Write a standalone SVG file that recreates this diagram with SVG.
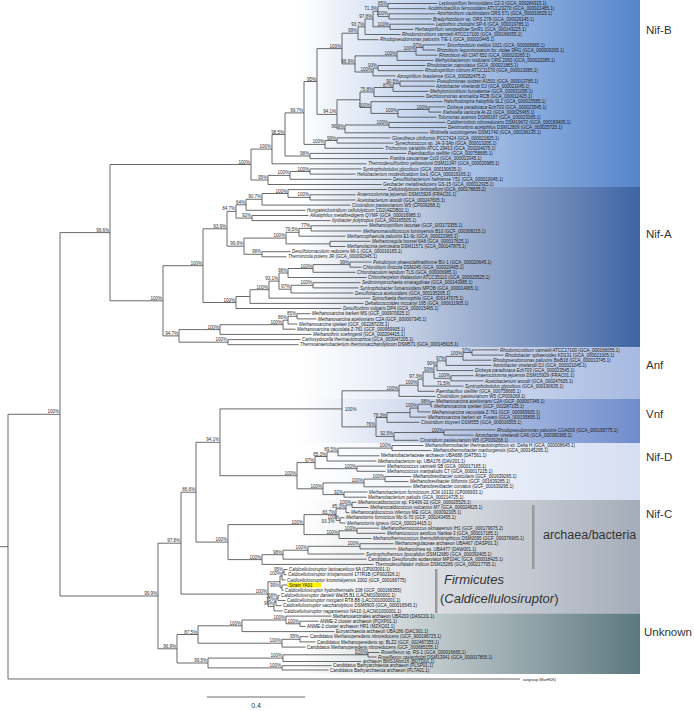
<svg xmlns="http://www.w3.org/2000/svg" width="694" height="711" viewBox="0 0 694 711">
<style>
.t{font-family:"Liberation Sans",Arial,sans-serif;font-size:4.5px;fill:#222}
.i{font-style:italic}
.s{font-family:"Liberation Sans",Arial,sans-serif;font-size:4.6px;fill:#333;text-anchor:end}
.br{fill:none;stroke:#444;stroke-width:0.8}
.bl{font-family:"Liberation Sans",Arial,sans-serif;font-size:11.5px;fill:#333}
.bar{fill:#9a9a9a}
</style>
<defs>
<linearGradient id="gB" gradientUnits="userSpaceOnUse" x1="300" y1="0" x2="640" y2="0"><stop offset="0" stop-color="#5585cc" stop-opacity="0"/><stop offset="1" stop-color="#5585cc"/></linearGradient>
<linearGradient id="gA" gradientUnits="userSpaceOnUse" x1="300" y1="0" x2="640" y2="0"><stop offset="0" stop-color="#3f64a3" stop-opacity="0"/><stop offset="1" stop-color="#3f64a3"/></linearGradient>
<linearGradient id="gF" gradientUnits="userSpaceOnUse" x1="300" y1="0" x2="640" y2="0"><stop offset="0" stop-color="#a6b9e0" stop-opacity="0"/><stop offset="1" stop-color="#a6b9e0"/></linearGradient>
<linearGradient id="gV" gradientUnits="userSpaceOnUse" x1="300" y1="0" x2="640" y2="0"><stop offset="0" stop-color="#6f8ccc" stop-opacity="0"/><stop offset="1" stop-color="#6f8ccc"/></linearGradient>
<linearGradient id="gD" gradientUnits="userSpaceOnUse" x1="300" y1="0" x2="640" y2="0"><stop offset="0" stop-color="#d6dff2" stop-opacity="0"/><stop offset="1" stop-color="#d6dff2"/></linearGradient>
<linearGradient id="gC" gradientUnits="userSpaceOnUse" x1="300" y1="0" x2="640" y2="0"><stop offset="0" stop-color="#a5adba" stop-opacity="0"/><stop offset="1" stop-color="#a5adba"/></linearGradient>
<linearGradient id="gU" gradientUnits="userSpaceOnUse" x1="300" y1="0" x2="640" y2="0"><stop offset="0" stop-color="#5d7880" stop-opacity="0"/><stop offset="1" stop-color="#5d7880"/></linearGradient>
</defs>
<rect width="694" height="711" fill="#fff"/>
<g id="bands">
<rect x="300" y="0" width="340" height="187" fill="url(#gB)"/>
<rect x="300" y="187" width="340" height="160.3" fill="url(#gA)"/>
<rect x="300" y="347.3" width="340" height="51.7" fill="url(#gF)"/>
<rect x="300" y="399" width="340" height="44" fill="url(#gV)"/>
<rect x="300" y="443" width="340" height="57" fill="url(#gD)"/>
<rect x="300" y="500" width="340" height="113.5" fill="url(#gC)"/>
<rect x="300" y="613.5" width="340" height="60.5" fill="url(#gU)"/>
</g>
<g id="band-labels">
<text class="bl" x="646" y="34">Nif-B</text>
<text class="bl" x="646" y="238">Nif-A</text>
<text class="bl" x="646" y="369">Anf</text>
<text class="bl" x="646" y="418">Vnf</text>
<text class="bl" x="646" y="461">Nif-D</text>
<text class="bl" x="646" y="518">Nif-C</text>
<text class="bl" x="644" y="636">Unknown</text>
</g>
<g id="connectors">
<path class="br" d="M388 3.5V8.7M388 3.5H437.5M388 8.7H426.5M389 13.8V19M389 13.8H435.5M389 19H431.5M378 6.1V16.4M378 6.1H388M378 16.4H389M390 24.2V29.4M390 24.2H434.5M390 29.4H413.5M373 11.2V26.8M373 11.2H378M373 26.8H390M365 19V34.5M365 19H373M365 34.5H400.5M358 26.8V39.7M358 26.8H365M358 39.7H378.5M423 44.9V50M423 44.9H445.5M423 50H435.5M416 47.5V55.2M416 47.5H423M416 55.2H437.5M397 51.3V60.4M397 51.3H416M397 60.4H433.5M378 65.5V70.7M378 65.5H425.5M378 70.7H423.5M373 68.1V75.9M373 68.1H378M373 75.9H395.5M355 55.9V72M355 55.9H397M355 72H373M342 33.2V63.9M342 33.2H358M342 63.9H355M400 81.1V86.2M400 81.1H435.5M400 86.2H434.5M393 83.7V91.4M393 83.7H400M393 91.4H428.5M374 87.5V96.6M374 87.5H393M374 96.6H424.5M429 106.9V112.1M429 106.9H445.5M429 112.1H441.5M398 109.5V117.2M398 109.5H429M398 117.2H436.5M371 101.7V113.4M371 101.7H442.5M371 113.4H398M360 92V107.5M360 92H374M360 107.5H371M389 122.4V127.6M389 122.4H445.5M389 127.6H446.5M345 125V132.8M345 125H389M345 132.8H428.5M337 99.8V128.9M337 99.8H360M337 128.9H345M317 48.6V114.4M317 48.6H342M317 114.4H337M337 137.9V143.1M337 137.9H390.5M337 143.1H393.5M325 140.5V148.3M325 140.5H337M325 148.3H383.5M304 81.5V144.4M304 81.5H317M304 144.4H325M310 153.4V158.6M310 153.4H406.5M310 158.6H388.5M285 112.9V156M285 112.9H304M285 156H310M272 134.5V163.8M272 134.5H285M272 163.8H366.5M310 168.9V174.1M310 168.9H361.5M310 174.1H355.5M290 171.5V179.3M290 171.5H310M290 179.3H391.5M268 175.4V184.5M268 175.4H290M268 184.5H381.5M251 149.1V180M251 149.1H272M251 180H268"/>
<path class="br" d="M310 194.8V200M310 194.8H355.5M310 200H355.5M288 189.6V197.4M288 189.6H386.5M288 197.4H310M262 193.5V205.1M262 193.5H288M262 205.1H350.5M246 199.3V210.3M246 199.3H262M246 210.3H305.5M252 215.5V220.6M252 215.5H308.5M252 220.6H330.5M236 204.8V218.1M236 204.8H246M236 218.1H252M311 225.8V231M311 225.8H367.5M311 231H361.5M299 228.4V236.2M299 228.4H311M299 236.2H345.5M330 241.3V246.5M330 241.3H370.5M330 246.5H345.5M286 232.3V243.9M286 232.3H299M286 243.9H330M262 251.7V256.8M262 251.7H290.5M262 256.8H286.5M244 238.1V254.3M244 238.1H286M244 254.3H262M227 211.4V246.2M227 211.4H236M227 246.2H244M350 262V267.2M350 262H371.5M350 267.2H361.5M313 264.6V272.3M313 264.6H350M313 272.3H355.5M288 268.5V277.5M288 268.5H313M288 277.5H366.5M313 282.7V287.9M313 282.7H360.5M313 287.9H358.5M291 285.3V293M291 285.3H313M291 293H353.5M279 273V289.2M279 273H288M279 289.2H291M269 281.1V298.2M269 281.1H279M269 298.2H370.5M250 289.7V303.4M250 289.7H269M250 303.4H363.5M236 296.5V308.5M236 296.5H250M236 308.5H341.5M203 228.8V302.5M203 228.8H227M203 302.5H236M297 313.7V318.9M297 313.7H310.5M297 318.9H316.5M288 316.3V324M288 316.3H297M288 324H297.5M283 320.2V329.2M283 320.2H288M283 329.2H295.5M220 324.7V334.4M220 324.7H283M220 334.4H311.5M228 339.6V344.7M228 339.6H300.5M228 344.7H298.5M179 329.6V342.2M179 329.6H220M179 342.2H228M163 265.7V335.9M163 265.7H203M163 335.9H179"/>
<path class="br" d="M472 349.9V355.1M472 349.9H498.5M472 355.1H503.5M463 352.5V360.2M463 352.5H472M463 360.2H491.5M446 356.4V365.4M446 356.4H463M446 365.4H491.5M437 360.9V370.6M437 360.9H446M437 370.6H473.5M451 375.7V380.9M451 375.7H473.5M451 380.9H483.5M434 365.8V378.3M434 365.8H437M434 378.3H451M423 372V386.1M423 372H434M423 386.1H463.5M418 379.1V391.3M418 379.1H423M418 391.3H434.5M399 385.2V396.4M399 385.2H418M399 396.4H435.5M431 401.6V406.8M431 401.6H434.5M431 406.8H432.5M418 404.2V411.9M418 404.2H431M418 411.9H430.5M410 408.1V417.1M410 408.1H418M410 417.1H426.5M387 412.6V422.3M387 412.6H410M387 422.3H419.5M444 429.9V435.1M444 429.9H495.5M444 435.1H473.5M394 432.5V440.3M394 432.5H444M394 440.3H418.5M376 417.5V436.4M376 417.5H387M376 436.4H394M342 390.8V426.9M342 390.8H399M342 426.9H376"/>
<path class="br" d="M392 445.5V450.6M392 445.5H423.5M392 450.6H431.5M338 448.1V455.8M338 448.1H392M338 455.8H379.5M327 451.9V461M327 451.9H338M327 461H376.5M357 466.1V471.3M357 466.1H385.5M357 471.3H385.5M315 456.5V468.7M315 456.5H327M315 468.7H357M385 476.5V481.6M385 476.5H411.5M385 481.6H408.5M364 479.1V486.8M364 479.1H385M364 486.8H411.5M344 492V497.2M344 492H367.5M344 497.2H366.5M323 482.9V494.6M323 482.9H364M323 494.6H344M297 462.6V488.8M297 462.6H315M297 488.8H323M220 408.9V475.7M220 408.9H342M220 475.7H297"/>
<path class="br" d="M352 502.3V507.5M352 502.3H356.5M352 507.5H368.5M346 504.9V512.7M346 504.9H352M346 512.7H349.5M340 517.8V523M340 517.8H344.5M340 523H345.5M336 508.8V520.4M336 508.8H346M336 520.4H340M357 528.2V533.3M357 528.2H379.5M357 533.3H385.5M339 530.8V538.5M339 530.8H357M339 538.5H371.5M304 514.6V534.6M304 514.6H336M304 534.6H339M360 543.7V548.9M360 543.7H393.5M360 548.9H396.5M308 546.3V554M308 546.3H360M308 554H364.5M283 550.2V559.2M283 550.2H308M283 559.2H366.5M262 554.7V564.4M262 554.7H283M262 564.4H373.5M228 524.6V559.6M228 524.6H304M228 559.6H262M196 442.3V542.1M196 442.3H220M196 542.1H228"/>
<path class="br" d="M284 569.5V574.7M284 569.5H287.5M284 574.7H286.5M282 572.1V579.9M282 572.1H284M282 579.9H285.5M282 585V590.2M282 585H287M282 590.2H283.5M280 576V587.6M280 576H282M280 587.6H282M278 595.4V600.6M278 595.4H279.5M278 600.6H285.5M276 598V605.7M276 598H278M276 605.7H281.5M274 601.9V610.9M274 601.9H276M274 610.9H282.5M268 581.8V606.4M268 581.8H280M268 606.4H274M181 492.2V594.1M181 492.2H196M181 594.1H268"/>
<path class="br" d="M300 621.2V626.4M300 621.2H318.5M300 626.4H305.5M286 616.1V623.8M286 616.1H331.5M286 623.8H300M242 620V631.6M242 620H286M242 631.6H334.5M300 636.7V641.9M300 636.7H308.5M300 641.9H315.5M282 639.3V647.1M282 639.3H300M282 647.1H305.5M198 625.8V643.2M198 625.8H242M198 643.2H282M368 652.5V657M368 652.5H379.5M368 657H376.5M283 654.8V661.5M283 654.8H368M283 661.5H361.5M282 665.7V670M282 665.7H331.5M282 670H328.5M208 658.1V667.9M208 658.1H283M208 667.9H282M177 634.5V663M177 634.5H198M177 663H208M158 543.2V648.8M158 543.2H181M158 648.8H177"/>
<path class="br" d="M110 164.5V300.8M110 164.5H251M110 300.8H163M60 232.6V596M60 232.6H110M60 596H158M8 414.3V679M8 414.3H60M8 679H520M0 546.7H8"/>
<path class="br" d="M207 697H305"/>
</g>
<g id="leaves">
<g id="n0"><text class="t" x="439" y="5.1"><tspan class="i">Leptospirillum ferrooxidans</tspan> C2-3 (GCA_000284315.1)</text></g>
<g id="n1"><text class="t" x="428" y="10.3"><tspan class="i">Acidithiobacillus ferrooxidans</tspan> ATCC23270 (GCA_000021485.1)</text></g>
<g id="n2"><text class="t" x="437" y="15.4"><tspan class="i">Azorhizobium caulinodans</tspan> ORS 571 (GCA_000010525.1)</text></g>
<g id="n3"><text class="t" x="433" y="20.6"><tspan class="i">Bradyrhizobium</tspan> sp. ORS 278 (GCA_000026145.1)</text></g>
<g id="n4"><text class="t" x="436" y="25.8"><tspan class="i">Leptothrix cholodnii</tspan> SP-6 (GCA_000019785.1)</text></g>
<g id="n5"><text class="t" x="415" y="31"><tspan class="i">Herbaspirillum seropedicae</tspan> SmR1 (GCA_000143225.1)</text></g>
<g id="n6"><text class="t" x="402" y="36.1"><tspan class="i">Rhodomicrobium vannielii</tspan> ATCC17100 (GCA_000166055.1)</text></g>
<g id="n7"><text class="t" x="380" y="41.3"><tspan class="i">Rhodopseudomonas palustris</tspan> TIE-1 (GCA_000020445.1)</text></g>
<g id="n8"><text class="t" x="447" y="46.5"><tspan class="i">Sinorhizobium meliloti</tspan> 1021 (GCA_000006965.1)</text></g>
<g id="n9"><text class="t" x="437" y="51.6"><tspan class="i">Rhizobium leguminosarum</tspan> bv. viciae 3841 (GCA_000009265.1)</text></g>
<g id="n10"><text class="t" x="439" y="56.8"><tspan class="i">Rhizobium etli</tspan> CIAT 652 (GCA_000020265.1)</text></g>
<g id="n11"><text class="t" x="435" y="62"><tspan class="i">Methylobacterium nodulans</tspan> ORS 2060 (GCA_000022085.1)</text></g>
<g id="n12"><text class="t" x="427" y="67.1"><tspan class="i">Rhodobacter capsulatus</tspan> (GCA_000021865.1)</text></g>
<g id="n13"><text class="t" x="425" y="72.3"><tspan class="i">Rhodospirillum rubrum</tspan> ATCC11170 (GCA_000013085.1)</text></g>
<g id="n14"><text class="t" x="397" y="77.5"><tspan class="i">Azospirillum brasilense</tspan> (GCA_000282475.2)</text></g>
<g id="n15"><text class="t" x="437" y="82.7"><tspan class="i">Pseudomonas stutzeri</tspan> A1501 (GCA_000013785.1)</text></g>
<g id="n16"><text class="t" x="436" y="87.8"><tspan class="i">Azotobacter vinelandii</tspan> DJ (GCA_000021045.1)</text></g>
<g id="n17"><text class="t" x="430" y="93"><tspan class="i">Methylomicrobium buryatense</tspan> (GCA_000931095.1)</text></g>
<g id="n18"><text class="t" x="426" y="98.2"><tspan class="i">Dechloromonas aromatica</tspan> RCB (GCA_000012425.1)</text></g>
<g id="n19"><text class="t" x="444" y="103.3"><tspan class="i">Halorhodospira halophila</tspan> SL1 (GCA_000015585.1)</text></g>
<g id="n20"><text class="t" x="447" y="108.5"><tspan class="i">Dickeya paradisiaca</tspan> Ech703 (GCA_000023545.1)</text></g>
<g id="n21"><text class="t" x="443" y="113.7"><tspan class="i">Klebsiella variicola</tspan> At-22 (GCA_000025465.1)</text></g>
<g id="n22"><text class="t" x="438" y="118.8"><tspan class="i">Tolumonas auensis</tspan> DSM9187 (GCA_000023065.1)</text></g>
<g id="n23"><text class="t" x="447" y="124"><tspan class="i">Calditerrivibrio nitroreducens</tspan> DSM19672 (GCA_000183405.1)</text></g>
<g id="n24"><text class="t" x="448" y="129.2"><tspan class="i">Denitrovibrio acetiphilus</tspan> DSM12809 (GCA_000025725.1)</text></g>
<g id="n25"><text class="t" x="430" y="134.4"><tspan class="i">Wolinella succinogenes</tspan> DSM1740 (GCA_000196135.1)</text></g>
<g id="n26"><text class="t" x="392" y="139.5"><tspan class="i">Gloeothece citriformis</tspan> PCC7424 (GCA_000021825.1)</text></g>
<g id="n27"><text class="t" x="395" y="144.7"><tspan class="i">Synechococcus</tspan> sp. JA-3-3Ab (GCA_000013205.1)</text></g>
<g id="n28"><text class="t" x="385" y="149.9"><tspan class="i">Trichormus variabilis</tspan> ATCC 29413 (GCA_000204075.1)</text></g>
<g id="n29"><text class="t" x="408" y="155"><tspan class="i">Paenibacillus stellifer</tspan> (GCA_000758685.1)</text></g>
<g id="n30"><text class="t" x="390" y="160.2"><tspan class="i">Frankia casuarinae</tspan> CcI3 (GCA_000013345.1)</text></g>
<g id="n31"><text class="t" x="368" y="165.4"><tspan class="i">Thermodesulfovibrio yellowstonii</tspan> DSM11347 (GCA_000020985.1)</text></g>
<g id="n32"><text class="t" x="363" y="170.5"><tspan class="i">Syntrophobotulus glycolicus</tspan> (GCA_000190635.1)</text></g>
<g id="n33"><text class="t" x="357" y="175.7"><tspan class="i">Heliobacterium modesticaldum</tspan> Ice1 (GCA_000019165.1)</text></g>
<g id="n34"><text class="t" x="393" y="180.9"><tspan class="i">Desulfitobacterium hafniense</tspan> Y51 (GCA_000010045.1)</text></g>
<g id="n35"><text class="t" x="383" y="186.1"><tspan class="i">Geobacter metallireducens</tspan> GS-15 (GCA_000012925.1)</text></g>
<g id="n36"><text class="t" x="388" y="191.2"><tspan class="i">Cellulosilyticum lentocellum</tspan> (GCA_000178835.2)</text></g>
<g id="n37"><text class="t" x="357" y="196.4"><tspan class="i">Anaerocolumna jejuensis</tspan> DSM15929 (FRAC01.1)</text></g>
<g id="n38"><text class="t" x="357" y="201.6"><tspan class="i">Acetobacterium woodii</tspan> (GCA_000247605.1)</text></g>
<g id="n39"><text class="t" x="352" y="206.7"><tspan class="i">Clostridium pasteurianum</tspan> W5 (CP009268.1)</text></g>
<g id="n40"><text class="t" x="307" y="211.9"><tspan class="i">Hungateiclostridium cellulolyticum</tspan> CD2(AEDB02.1)</text></g>
<g id="n41"><text class="t" x="310" y="217.1"><tspan class="i">Alkaliphilus metalliredigens</tspan> QYMF (GCA_000016985.1)</text></g>
<g id="n42"><text class="t" x="332" y="222.2"><tspan class="i">Ilyobacter polytropus</tspan> (GCA_000165505.1)</text></g>
<g id="n43"><text class="t" x="369" y="227.4"><tspan class="i">Methanospirillum lacunae</tspan> (GCF_003173355.1)</text></g>
<g id="n44"><text class="t" x="363" y="232.6"><tspan class="i">Methanomassiliicoccus luminyensis</tspan> B10 (GCF_000308215.1)</text></g>
<g id="n45"><text class="t" x="347" y="237.8"><tspan class="i">Methanosphaerula palustris</tspan> E1-9c (GCA_000021965.1)</text></g>
<g id="n46"><text class="t" x="372" y="242.9"><tspan class="i">Methanoregula boonei</tspan> 6A8 (GCA_000017625.1)</text></g>
<g id="n47"><text class="t" x="347" y="248.1"><tspan class="i">Methanolacinia petrolearia</tspan> DSM11571 (GCA_000147875.1)</text></g>
<g id="n48"><text class="t" x="292" y="253.3"><tspan class="i">Desulfotomaculum reducens</tspan> MI-1 (GCA_000016165.1)</text></g>
<g id="n49"><text class="t" x="288" y="258.4"><tspan class="i">Thermincola potens</tspan> JR (GCA_000092945.1)</text></g>
<g id="n50"><text class="t" x="373" y="263.6"><tspan class="i">Pelodictyon phaeoclathratiforme</tspan> BU-1 (GCA_000020645.1)</text></g>
<g id="n51"><text class="t" x="363" y="268.8"><tspan class="i">Chlorobium limicola</tspan> DSM245 (GCA_000020465.1)</text></g>
<g id="n52"><text class="t" x="357" y="273.9"><tspan class="i">Chlorobaculum tepidum</tspan> TLS (GCA_000006985.1)</text></g>
<g id="n53"><text class="t" x="368" y="279.1"><tspan class="i">Chloroherpeton thalassium</tspan> ATCC35110 (GCA_000020525.1)</text></g>
<g id="n54"><text class="t" x="362" y="284.3"><tspan class="i">Sediminispirochaeta smaragdinae</tspan> (GCA_000143985.1)</text></g>
<g id="n55"><text class="t" x="360" y="289.5"><tspan class="i">Syntrophobacter fumaroxidans</tspan> MPOB (GCA_000014965.1)</text></g>
<g id="n56"><text class="t" x="355" y="294.6"><tspan class="i">Desulfobacca acetoxidans</tspan> (GCA_000195295.1)</text></g>
<g id="n57"><text class="t" x="372" y="299.8"><tspan class="i">Spirochaeta thermophila</tspan> (GCA_000147075.1)</text></g>
<g id="n58"><text class="t" x="365" y="305"><tspan class="i">Dehalococcoides mccartyi</tspan> 195 (GCA_000011905.1)</text></g>
<g id="n59"><text class="t" x="343" y="310.1"><tspan class="i">Desulfovibrio vulgaris</tspan> DP4 (GCA_000015465.1)</text></g>
<g id="n60"><text class="t" x="312" y="315.3"><tspan class="i">Methanosarcina barkeri</tspan> MS (GCF_000970025.1)</text></g>
<g id="n61"><text class="t" x="318" y="320.5"><tspan class="i">Methanosarcina acetivorans</tspan> C2A (GCF_000007345.1)</text></g>
<g id="n62"><text class="t" x="299" y="325.6"><tspan class="i">Methanosarcina spelaei</tspan> (GCF_002287235.1)</text></g>
<g id="n63"><text class="t" x="297" y="330.8"><tspan class="i">Methanosarcina vacuolata</tspan> Z-761 (GCF_000969905.1)</text></g>
<g id="n64"><text class="t" x="313" y="336"><tspan class="i">Methanothrix soehngenii</tspan> (GCA_000204415.1)</text></g>
<g id="n65"><text class="t" x="302" y="341.2"><tspan class="i">Carboxydocella thermautotrophica</tspan> (GCA_003047205.1)</text></g>
<g id="n66"><text class="t" x="300" y="346.3"><tspan class="i">Thermoanaerobacterium thermosaccharolyticum</tspan> DSM571 (GCA_000145615.1)</text></g>
<g id="n67"><text class="t" x="500" y="351.5"><tspan class="i">Rhodomicrobium vannielii</tspan> ATCC17100 (GCA_000166055.1)</text></g>
<g id="n68"><text class="t" x="505" y="356.7"><tspan class="i">Rhodobacter sphaeroides</tspan> KD131 (GCA_000021005.1)</text></g>
<g id="n69"><text class="t" x="493" y="361.8"><tspan class="i">Rhodopseudomonas palustris</tspan> BisB18 (GCA_000013745.1)</text></g>
<g id="n70"><text class="t" x="493" y="367"><tspan class="i">Azotobacter vinelandii</tspan> DJ (GCA_000021045.1)</text></g>
<g id="n71"><text class="t" x="475" y="372.2"><tspan class="i">Dickeya paradisiaca</tspan> Ech703 (GCA_000023545.1)</text></g>
<g id="n72"><text class="t" x="475" y="377.3"><tspan class="i">Anaerocolumna jejuensis</tspan> DSM15929 (FRAC01.1)</text></g>
<g id="n73"><text class="t" x="485" y="382.5"><tspan class="i">Acetobacterium woodii</tspan> (GCA_000247605.1)</text></g>
<g id="n74"><text class="t" x="465" y="387.7"><tspan class="i">Syntrophobotulus glycolicus</tspan> (GCA_000190635.1)</text></g>
<g id="n75"><text class="t" x="436" y="392.9"><tspan class="i">Paenibacillus stellifer</tspan> (GCA_000758685.1)</text></g>
<g id="n76"><text class="t" x="437" y="398"><tspan class="i">Clostridium pasteurianum</tspan> W5 (CP009268.1)</text></g>
<g id="n77"><text class="t" x="436" y="403.2"><tspan class="i">Methanosarcina acetivorans</tspan> C2A (GCF_000007345.1)</text></g>
<g id="n78"><text class="t" x="434" y="408.4"><tspan class="i">Methanosarcina spelaei</tspan> (GCF_002287235.1)</text></g>
<g id="n79"><text class="t" x="432" y="413.5"><tspan class="i">Methanosarcina vacuolata</tspan> Z-761 (GCF_000969905.1)</text></g>
<g id="n80"><text class="t" x="428" y="418.7"><tspan class="i">Methanosarcina barkeri</tspan> str. Fusaro (GCA_000195895.1)</text></g>
<g id="n81"><text class="t" x="421" y="423.9"><tspan class="i">Clostridium kluyveri</tspan> DSM555 (GCA_000016505.1)</text></g>
<g id="n82"><text class="t" x="497" y="431.5"><tspan class="i">Rhodopseudomonas palustris</tspan> CGA009 (GCA_000195775.1)</text></g>
<g id="n83"><text class="t" x="475" y="436.7"><tspan class="i">Azotobacter vinelandii</tspan> CA6 (GCA_000380365.1)</text></g>
<g id="n84"><text class="t" x="420" y="441.9"><tspan class="i">Clostridium pasteurianum</tspan> W5 (CP009268.1)</text></g>
<g id="n85"><text class="t" x="425" y="447.1"><tspan class="i">Methanothermobacter thermautotrophicus</tspan> str. Delta H (GCA_000008645.1)</text></g>
<g id="n86"><text class="t" x="433" y="452.2"><tspan class="i">Methanothermobacter marburgensis</tspan> (GCA_000145295.1)</text></g>
<g id="n87"><text class="t" x="381" y="457.4">Methanobacteriaceae archaeon UBA688 (DAT561.1)</text></g>
<g id="n88"><text class="t" x="378" y="462.6"><tspan class="i">Methanobacterium</tspan> sp. UBA176 (DAV201.1)</text></g>
<g id="n89"><text class="t" x="387" y="467.7"><tspan class="i">Methanococcus vannielii</tspan> SB (GCA_000017165.1)</text></g>
<g id="n90"><text class="t" x="387" y="472.9"><tspan class="i">Methanococcus maripaludis</tspan> C7 (GCA_000017225.1)</text></g>
<g id="n91"><text class="t" x="413" y="478.1"><tspan class="i">Methanobrevibacter cuticularis</tspan> (GCF_001639265.1)</text></g>
<g id="n92"><text class="t" x="410" y="483.2"><tspan class="i">Methanobrevibacter filiformis</tspan> (GCF_001639285.1)</text></g>
<g id="n93"><text class="t" x="413" y="488.4"><tspan class="i">Methanobrevibacter curvatus</tspan> (GCF_001639295.1)</text></g>
<g id="n94"><text class="t" x="369" y="493.6"><tspan class="i">Methanobacterium formicicum</tspan> JCM 10132 (CP006933.1)</text></g>
<g id="n95"><text class="t" x="368" y="498.8"><tspan class="i">Methanobacterium paludis</tspan> (GCA_000214725.1)</text></g>
<g id="n96"><text class="t" x="358" y="503.9"><tspan class="i">Methanocaldococcus</tspan> sp. FS406-22 (GCF_000025525.1)</text></g>
<g id="n97"><text class="t" x="370" y="509.1"><tspan class="i">Methanocaldococcus vulcanius</tspan> M7 (GCA_000024625.1)</text></g>
<g id="n98"><text class="t" x="351" y="514.3"><tspan class="i">Methanocaldococcus infernus</tspan> ME (GCA_000092305.1)</text></g>
<g id="n99"><text class="t" x="346" y="519.4"><tspan class="i">Methanotorris formicicus</tspan> Mc-S-70 (GCF_000243455.1)</text></g>
<g id="n100"><text class="t" x="347" y="524.6"><tspan class="i">Methanotorris igneus</tspan> (GCA_000214415.1)</text></g>
<g id="n101"><text class="t" x="381" y="529.8"><tspan class="i">Methanothermococcus okinawensis</tspan> IH1 (GCF_000179675.2)</text></g>
<g id="n102"><text class="t" x="387" y="534.9"><tspan class="i">Methanococcus aeolicus</tspan> Nankai-3 (GCA_000017185.1)</text></g>
<g id="n103"><text class="t" x="373" y="540.1"><tspan class="i">Methanothermococcus thermolithotrophicus</tspan> DSM2095 (GCF_000376965.1)</text></g>
<g id="n104"><text class="t" x="395" y="545.3">Methanoregulaceae archaeon UBA467 (DASP01.1)</text></g>
<g id="n105"><text class="t" x="398" y="550.5"><tspan class="i">Methanolinea</tspan> sp. UBA477 (DAW001.1)</text></g>
<g id="n106"><text class="t" x="366" y="555.6"><tspan class="i">Syntrophothermus lipocalidus</tspan> DSM12680 (GCA_000092405.1)</text></g>
<g id="n107"><text class="t" x="368" y="560.8">Candidatus Desulforudis audaxviator MP104C (GCA_000018425.1)</text></g>
<g id="n108"><text class="t" x="375" y="566"><tspan class="i">Thermodesulfatator indicus</tspan> DSM15286 (GCA_000217795.1)</text></g>
<g id="n109"><text class="t" x="289" y="571.1"><tspan class="i">Caldicellulosiruptor lactoaceticus</tspan> 6A (CP003001.1)</text></g>
<g id="n110"><text class="t" x="288" y="576.3"><tspan class="i">Caldicellulosiruptor kristjanssonii</tspan> 177R1B (CP002326.1)</text></g>
<g id="n111"><text class="t" x="287" y="581.5"><tspan class="i">Caldicellulosiruptor kronotskyensis</tspan> 2002 (GCF_000166775)</text></g>
<g id="n112"><rect x="287" y="582.6" width="34" height="4.8" fill="#ffef00"/><text class="t" x="289" y="586.6">Strain YA01</text></g>
<g id="n113"><text class="t" x="285" y="591.8"><tspan class="i">Caldicellulosiruptor hydrothermalis</tspan> 108 (GCF_000166355)</text></g>
<g id="n114"><text class="t" x="281" y="597"><tspan class="i">Caldicellulosiruptor danielii</tspan> Wai35.B1 (LACM01000001.1)</text></g>
<g id="n115"><text class="t" x="287" y="602.2"><tspan class="i">Caldicellulosiruptor morganii</tspan> RT8.B8 (LACO01000001.1)</text></g>
<g id="n116"><text class="t" x="283" y="607.3"><tspan class="i">Caldicellulosiruptor saccharolyticus</tspan> DSM8903 (GCA_000016545.1)</text></g>
<g id="n117"><text class="t" x="284" y="612.5"><tspan class="i">Caldicellulosiruptor naganoensis</tspan> NA10 (LACN01000001.1)</text></g>
<g id="n118"><text class="t" x="333" y="617.7">Methanosarcinales archaeon UBA203 (DASC01.1)</text></g>
<g id="n119"><text class="t" x="320" y="622.8">ANME-2 cluster archaeon (PQXP01.1)</text></g>
<g id="n120"><text class="t" x="307" y="628">ANME-2 cluster archaeon HR1 (MZXQ01.1)</text></g>
<g id="n121"><text class="t" x="336" y="633.2">Euryarchaeota archaeon UBA186 (DAC301.1)</text></g>
<g id="n122"><text class="t" x="310" y="638.3">Candidatus Methanoperedens nitroreducens (GCF_900196725.1)</text></g>
<g id="n123"><text class="t" x="317" y="643.5">Candidatus Methanoperedens sp. BLZ2 (GCF_002487355.1)</text></g>
<g id="n124"><text class="t" x="307" y="648.7">Candidatus Methanoperedens nitroreducens (GCF_000685155.1)</text></g>
<g id="n125"><text class="t" x="381" y="654.1"><tspan class="i">Roseiflexus</tspan> sp. RS-1 (GCA_000016665.1)</text></g>
<g id="n126"><text class="t" x="378" y="658.6"><tspan class="i">Roseiflexus castenholzii</tspan> DSM13941 (GCA_000017805.1)</text></g>
<g id="n127"><text class="t" x="363" y="663.1">archaeon BMS3Abin16 (BDTD01.1)</text></g>
<g id="n128"><text class="t" x="333" y="667.3">Candidatus Bathyarchaeota archaeon (PLSP01.1)</text></g>
<g id="n129"><text class="t" x="330" y="671.6">Candidatus Bathyarchaeota archaeon (PLTA01.1)</text></g>
<g id="outgroup"><text class="t" x="523" y="680.5" style="font-size:3.8px">outgroup (MarHDK)</text></g>
</g>
<g id="support">
<text class="s" x="387.2" y="5.1">85%</text><text class="s" x="388.2" y="15.4">100%</text><text class="s" x="377.2" y="10.2">71.3%</text><text class="s" x="389.2" y="25.8">100%</text><text class="s" x="372.2" y="18">97.8%</text><text class="s" x="364.2" y="25.8">93.7%</text><text class="s" x="357.2" y="32.2">99%</text>
<text class="s" x="422.2" y="46.5">97%</text><text class="s" x="415.2" y="50.3">100%</text><text class="s" x="396.2" y="54.9">100%</text><text class="s" x="377.2" y="67.1">93%</text><text class="s" x="372.2" y="71">100%</text><text class="s" x="354.2" y="63">98.9%</text><text class="s" x="341.2" y="47.6">100%</text>
<text class="s" x="399.2" y="82.7">90.5%</text><text class="s" x="392.2" y="86.5">87%</text><text class="s" x="373.2" y="91.1">75.8%</text><text class="s" x="428.2" y="108.5">100%</text><text class="s" x="397.2" y="112.4">100%</text><text class="s" x="370.2" y="106.5">100%</text><text class="s" x="388.2" y="124">100%</text><text class="s" x="344.2" y="127.9">96.9%</text><text class="s" x="336.2" y="113.4">94.1%</text><text class="s" x="316.2" y="80.5">95%</text>
<text class="s" x="336.2" y="139.5">99%</text><text class="s" x="324.2" y="143.4">100%</text><text class="s" x="303.2" y="111.9">99.7%</text><text class="s" x="309.2" y="155">98%</text><text class="s" x="284.2" y="133.5">98.5%</text><text class="s" x="271.2" y="148.1">100%</text><text class="s" x="309.2" y="170.5">100%</text><text class="s" x="289.2" y="174.4">100%</text><text class="s" x="267.2" y="179">95%</text><text class="s" x="250.2" y="163.5">100%</text>
<text class="s" x="309.2" y="196.4">100%</text><text class="s" x="287.2" y="192.5">100%</text><text class="s" x="261.2" y="198.3">90.7%</text><text class="s" x="245.2" y="203.8">64%</text><text class="s" x="251.2" y="217.1">92%</text><text class="s" x="235.2" y="210.4">84.7%</text><text class="s" x="310.2" y="227.4">77%</text><text class="s" x="298.2" y="231.3">79.5%</text><text class="s" x="285.2" y="237.1">100%</text><text class="s" x="261.2" y="253.3">98%</text><text class="s" x="243.2" y="245.2">99.6%</text><text class="s" x="226.2" y="227.8">93.9%</text>
<text class="s" x="349.2" y="263.6">99%</text><text class="s" x="312.2" y="267.5">100%</text><text class="s" x="287.2" y="272">98%</text><text class="s" x="312.2" y="284.3">100%</text><text class="s" x="290.2" y="288.2">97%</text><text class="s" x="278.2" y="280.1">93.1%</text><text class="s" x="268.2" y="288.7">100%</text><text class="s" x="235.2" y="301.5">100%</text><text class="s" x="202.2" y="264.7">100%</text>
<text class="s" x="296.2" y="315.3">85%</text><text class="s" x="287.2" y="319.2">86%</text><text class="s" x="282.2" y="323.7">100%</text><text class="s" x="219.2" y="328.6">100%</text><text class="s" x="227.2" y="341.2">100%</text><text class="s" x="178.2" y="334.9">94.7%</text><text class="s" x="162.2" y="299.8">100%</text>
<text class="s" x="471.2" y="351.5">97%</text><text class="s" x="462.2" y="355.4">100%</text><text class="s" x="445.2" y="359.9">97%</text><text class="s" x="436.2" y="364.8">90%</text><text class="s" x="450.2" y="377.3">100%</text><text class="s" x="450" y="384.5">71.5%</text><text class="s" x="433.2" y="371">93%</text><text class="s" x="422.2" y="378.1">97.3%</text><text class="s" x="417.2" y="384.2">100%</text><text class="s" x="398.2" y="389.8">100%</text>
<text class="s" x="356.5" y="410.5">100%</text><text class="s" x="430.2" y="403.2">98%</text><text class="s" x="417.2" y="407.1">100%</text><text class="s" x="386.2" y="416.5">78.3%</text><text class="s" x="443.2" y="431.5">100%</text><text class="s" x="393.2" y="435.4">92.5%</text><text class="s" x="375.2" y="425.9">76%</text>
<text class="s" x="391.2" y="447.1">100%</text><text class="s" x="337.2" y="450.9">89.5%</text><text class="s" x="326.2" y="455.5">85.3%</text><text class="s" x="356.2" y="467.7">100%</text><text class="s" x="314.2" y="461.6">97%</text><text class="s" x="384.2" y="478.1">100%</text><text class="s" x="363.2" y="481.9">100%</text><text class="s" x="343.2" y="493.6">92%</text><text class="s" x="322.2" y="487.8">100%</text><text class="s" x="296.2" y="474.7">100%</text><text class="s" x="219.2" y="441.3">94.1%</text>
<text class="s" x="351.2" y="503.9">100%</text><text class="s" x="345.2" y="507.8">85.3%</text><text class="s" x="339.2" y="519.4">100%</text><text class="s" x="335.2" y="513.6">83.7%</text><text class="s" x="334.5" y="523.4">93.3%</text><text class="s" x="356.2" y="529.8">100%</text><text class="s" x="338.2" y="533.6">100%</text><text class="s" x="303.2" y="523.6">100%</text><text class="s" x="359.2" y="545.3">100%</text><text class="s" x="307.2" y="549.2">100%</text><text class="s" x="282.2" y="553.7">98%</text><text class="s" x="261.2" y="558.6">100%</text><text class="s" x="227.2" y="541.1">100%</text><text class="s" x="195.2" y="491.2">86.6%</text>
<text class="s" x="283.2" y="571.1">95%</text><text class="s" x="281.2" y="575">100%</text><text class="s" x="279.2" y="586.6">99%</text><text class="s" x="267.2" y="593.1">100%</text><text class="s" x="277.2" y="597">68%</text><text class="s" x="275.2" y="600.9">75%</text><text class="s" x="273.2" y="605.4">96%</text><text class="s" x="180.2" y="542.2">97.8%</text>
<text class="s" x="299.2" y="622.8">100%</text><text class="s" x="285.2" y="618.9">100%</text><text class="s" x="241.2" y="624.8">100%</text><text class="s" x="299.2" y="638.3">95%</text><text class="s" x="281.2" y="642.2">100%</text><text class="s" x="197.2" y="633.5">87.5%</text><text class="s" x="367.2" y="653.8">100%</text><rect x="355.5" y="649.6" width="12.2" height="5" fill="none" stroke="#444" stroke-width="0.4"/><text class="s" x="282.2" y="657.1">100%</text><text class="s" x="281.2" y="666.9">100%</text><text class="s" x="207.2" y="662">99.5%</text><text class="s" x="176.2" y="647.8">96.9%</text><text class="s" x="157.2" y="595">99.9%</text><text class="s" x="109.2" y="231.6">99.6%</text><text class="s" x="59.2" y="413.3">100%</text>
</g>
<g id="annotations">
<rect class="bar" x="532" y="505" width="2.5" height="64"/>
<text x="543" y="539" style="font-family:'Liberation Sans',Arial,sans-serif;font-size:12.5px;fill:#333">archaea/bacteria</text>
<rect class="bar" x="435" y="569" width="2.5" height="44"/>
<text x="444" y="584" style="font-family:'Liberation Sans',Arial,sans-serif;font-size:13px;fill:#333;font-style:italic">Firmicutes</text>
<text x="440" y="603" style="font-family:'Liberation Sans',Arial,sans-serif;font-size:13px;fill:#333">(<tspan font-style="italic">Caldicellulosiruptor</tspan>)</text>
<text x="256" y="708" text-anchor="middle" style="font-family:'Liberation Sans',Arial,sans-serif;font-size:7px;fill:#333">0.4</text>
</g>
</svg>
